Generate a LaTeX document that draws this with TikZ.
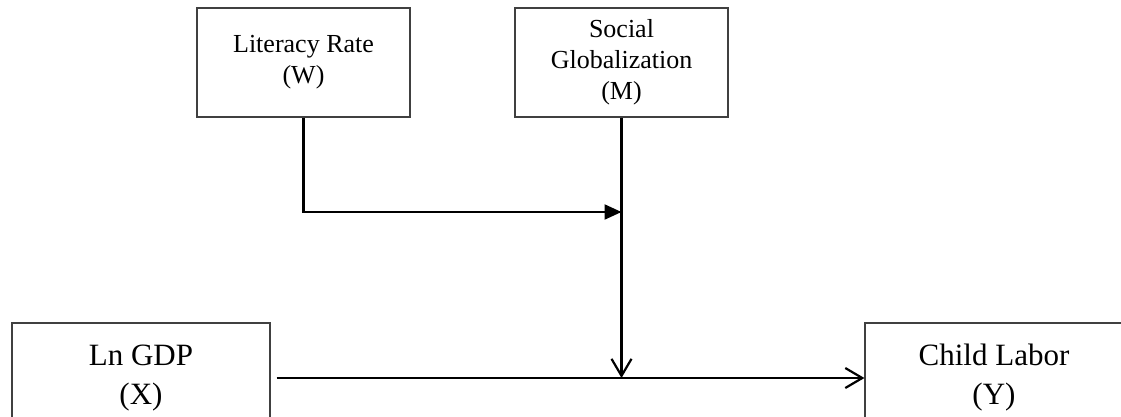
\documentclass[tikz,border=0pt]{standalone}
\usepackage{fontspec}
\setmainfont{Liberation Serif}
\usetikzlibrary{arrows.meta}
\begin{document}
\begin{tikzpicture}[x=1pt,y=1pt,
  box/.style={draw=black!75, line width=1.1pt, rectangle, align=center, inner sep=0pt},
  topbox/.style={box, minimum width=213pt, minimum height=109pt, font=\fontsize{26}{31}\selectfont},
  botbox/.style={box, minimum width=258pt, minimum height=110pt, font=\fontsize{31}{39}\selectfont},
  conn/.style={line width=2.2pt, black},
  filledtip/.style={-{Triangle[length=17pt,width=15pt]}},
  opentip/.style={-{Straight Barb[length=17pt,width=20pt,line width=2.2pt]}}
]
\useasboundingbox (0,0) rectangle (1121,-416);
\clip (0,0) rectangle (1121,-416);
\node[topbox] (W) at (303.5,-62.5) {Literacy Rate\\(W)};
\node[topbox] (M) at (621.5,-62.5) {Social\\Globalization\\(M)};
\node[botbox] (X) at (141,-378) {Ln GDP\\(X)};
\node[botbox] (Y) at (994,-378) {Child Labor\\(Y)};
\coordinate (J1) at (M.south |- 0,-212);
\coordinate (J2) at (M.south |- X.east);
\coordinate (XS) at ([xshift=6pt]X.east);
\draw[conn, filledtip] (W.south) |- (J1);
\draw[conn, opentip] (M.south) -- (J2);
\draw[conn, opentip] (XS) -- (Y.west);
\end{tikzpicture}
\end{document}
